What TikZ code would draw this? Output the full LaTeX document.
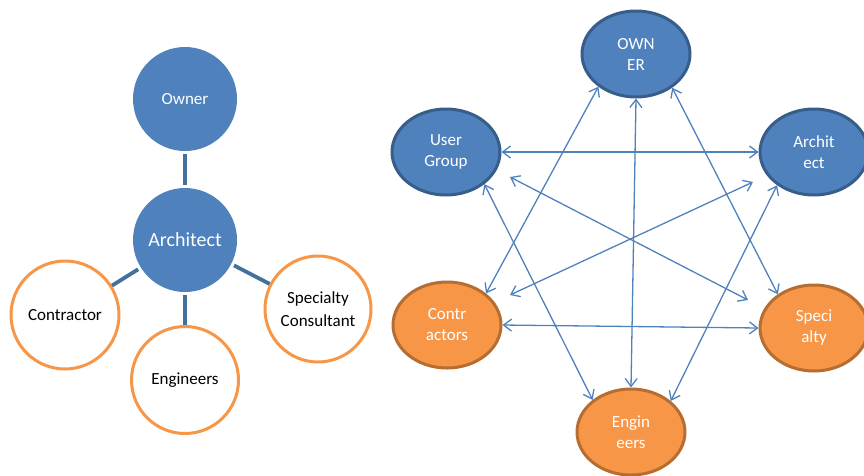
\documentclass[tikz,border=0pt]{standalone}
\usepackage{fontspec}
\setmainfont{Carlito}
\usetikzlibrary{shapes.geometric,arrows.meta}
\definecolor{bfill}{HTML}{4F81BD}
\definecolor{bborder}{HTML}{385D8A}
\definecolor{ofill}{HTML}{F79646}
\definecolor{oborder}{HTML}{B66D31}
\definecolor{linkc}{HTML}{41719C}
\definecolor{arrc}{HTML}{4F81BD}
\tikzset{
  bcirc/.style={circle,fill=bfill,draw=none,text=white,inner sep=0pt,minimum size=104pt,font=\fontsize{17}{21}\selectfont},
  ocirc/.style={circle,fill=white,draw=ofill,line width=3pt,inner sep=0pt,font=\fontsize{17}{23}\selectfont,align=center},
  link/.style={draw=linkc,line width=3.8pt,shorten <=3pt},
  bell/.style={ellipse,fill=bfill,draw=bborder,line width=3pt,inner sep=0pt,minimum width=108pt,minimum height=86pt,text=white,align=center,font=\fontsize{17}{21}\selectfont},
  oell/.style={ellipse,fill=ofill,draw=oborder,line width=3pt,inner sep=0pt,minimum width=108pt,minimum height=86pt,text=white,align=center,font=\fontsize{17}{21}\selectfont},
  arr/.style={draw=arrc,line width=1.3pt,{Straight Barb[length=8pt,width=12pt]}-{Straight Barb[length=8pt,width=12pt]}}
}
\begin{document}
\begin{tikzpicture}[x=1pt,y=-1pt]
\useasboundingbox (0,0) rectangle (864,475);
\clip (0,0) rectangle (864,475);
% left diagram
\node[bcirc] (lowner) at (185,99) {Owner};
\node[bcirc,font=\fontsize{20}{24}\selectfont] (larch) at (185,240) {Architect};
\node[ocirc,minimum size=108pt] (lcon) at (65,315) {Contractor};
\node[ocirc,minimum size=107pt] (leng) at (185,380) {Engineers};
\node[ocirc,minimum size=106pt] (lspec) at (318,309) {Specialty\\Consultant};
\draw[link,shorten >=3pt] (larch) -- (lowner);
\draw[link] (larch) -- (lcon);
\draw[link] (larch) -- (leng);
\draw[link] (larch) -- (lspec);
% right diagram
\node[bell] (own) at (636,54) {OWN\\ER};
\node[bell] (ug) at (446,152) {User\\Group};
\node[bell] (ar) at (814,152) {Archit\\ect};
\node[oell] (co) at (447,325) {Contr\\actors};
\node[oell] (sp) at (814,328) {Speci\\alty};
\node[oell] (en) at (631,432) {Engin\\eers};
\coordinate (p1) at (510,177);
\coordinate (p2) at (748,300);
\coordinate (p3) at (753,182);
\coordinate (p4) at (510,295);
\draw[arr] (ug.east) -- (ar.west);
\draw[arr] (co.east) -- (sp.west);
\draw[arr] (own.south) -- (en.north);
\draw[arr] (own.221) -- (co.39.5);
\draw[arr] (own.317) -- (sp.137.5);
\draw[arr] (ug.320) -- (en.140.6);
\draw[arr] (ar.222.5) -- (en.38);
\draw[arr] (p1) -- (p2);
\draw[arr] (p3) -- (p4);
\end{tikzpicture}
\end{document}
